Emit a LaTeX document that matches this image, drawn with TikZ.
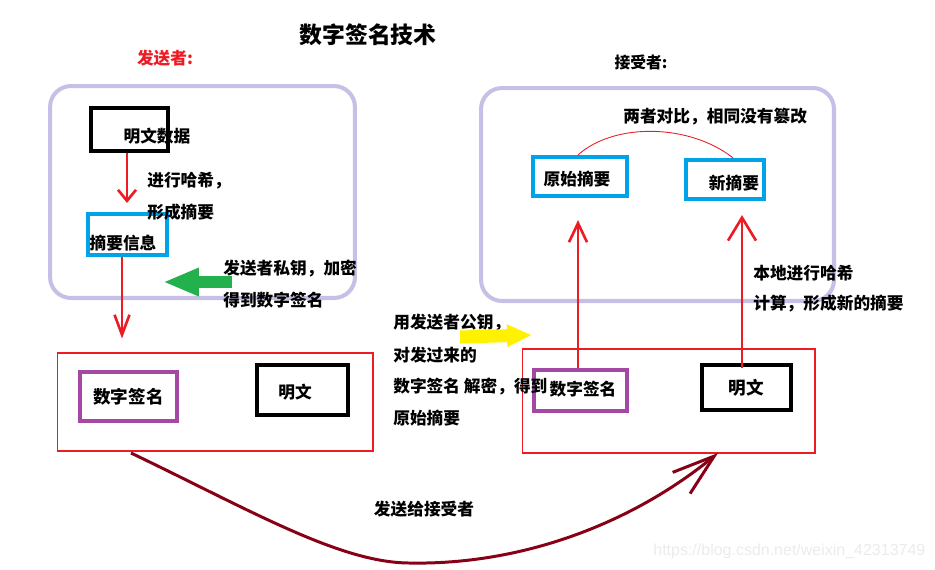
\documentclass[tikz,border=0pt]{standalone}
\usepackage{fontspec}
\setmainfont{Noto Sans CJK SC}
\newfontfamily\wmfont{Liberation Sans}
\usetikzlibrary{arrows.meta}

\definecolor{sred}{HTML}{ED1C24}
\definecolor{lav}{HTML}{C8BFE7}
\definecolor{sblue}{HTML}{00A2E8}
\definecolor{spurple}{HTML}{A349A4}
\definecolor{sgreen}{HTML}{22B14C}
\definecolor{syellow}{HTML}{FFF200}
\definecolor{dred}{HTML}{880015}

\begin{document}
\begin{tikzpicture}[x=0.02cm, y=-0.02cm,
    txt/.style={font=\bfseries\fontsize{9.5}{11}\selectfont, inner sep=0pt},
    lavbox/.style={draw=lav, line width=2.3pt, rounded corners=0.42cm, inner sep=0pt},
    frame/.style={draw=sred, line width=0.6pt, inner sep=0pt},
    blackbox/.style={draw=black, line width=2.4pt, inner sep=0pt},
    bluebox/.style={draw=sblue, line width=2.4pt, inner sep=0pt},
    purplebox/.style={draw=spurple, line width=2.4pt, inner sep=0pt},
    redarrow/.style={draw=sred, line width=1.5pt},
    fatarrow/.style={line width=0.24cm}]
    \useasboundingbox (0,0) rectangle (935,569);

    % Title and roles
    \node[txt, font=\bfseries\fontsize{13}{15}\selectfont] (title) at (368,35) {数字签名技术};
    \node[txt, text=sred, font=\bfseries\fontsize{9.5}{11}\selectfont] (sender) at (165,58) {发送者:};
    \node[txt, font=\bfseries\fontsize{9}{11}\selectfont] (receiver) at (641,62) {接受者:};

    % Sender side
    \node[lavbox, minimum width=6.1cm, minimum height=4.24cm] (sendgroup) at (202.5,192) {};
    \node[blackbox, minimum width=1.54cm, minimum height=0.86cm,
        label={[txt, xshift=0.55cm, yshift=-0.13cm]center:明文数据}] (plainsrc) at (129.5,129.5) {};
    \node[bluebox, minimum width=1.58cm, minimum height=0.82cm,
        label={[txt, xshift=-0.09cm, yshift=-0.17cm]center:摘要信息}] (digest) at (127.5,234.5) {};
    \node[txt, anchor=west] (hashnote) at (147,181) {进行哈希，};
    \node[txt, anchor=west] (hashnote2) at (147,212) {形成摘要};
    \node[txt, anchor=west] (signnote) at (223,269) {发送者私钥，加密};
    \node[txt, anchor=west] (signnote2) at (223,300) {得到数字签名};

    % Package sent
    \node[frame, minimum width=6.32cm, minimum height=1.96cm] (sendpack) at (215,402) {};
    \node[purplebox, minimum width=1.94cm, minimum height=0.98cm] (sigsrc) at (128.5,396.5) {\bfseries 数字签名};
    \node[blackbox, minimum width=1.82cm, minimum height=1cm,
        label={[txt, xshift=-0.15cm, yshift=-0.04cm]center:明文}] (plainsent) at (302.5,390) {};

    % Receiver side
    \node[lavbox, minimum width=7.06cm, minimum height=4.26cm] (recvgroup) at (657.5,194.5) {};
    \node[bluebox, minimum width=1.88cm, minimum height=0.78cm,
        label={[txt, xshift=-0.06cm, yshift=-0.05cm]center:原始摘要}] (origdigest) at (580,176.5) {};
    \node[bluebox, minimum width=1.56cm, minimum height=0.78cm,
        label={[txt, xshift=0.18cm, yshift=-0.07cm]center:新摘要}] (newdigest) at (725,179.5) {};
    \node[txt, anchor=west] (comparenote) at (623,117) {两者对比，相同没有篡改};
    \node[txt, anchor=west] (localnote) at (753,273) {本地进行哈希};
    \node[txt, anchor=west] (localnote2) at (753,304) {计算，形成新的摘要};

    % Package received
    \node[frame, minimum width=5.86cm, minimum height=2.08cm] (recvpack) at (668.5,401) {};
    \node[purplebox, minimum width=1.86cm, minimum height=0.82cm,
        label={[txt, xshift=0.05cm, yshift=0.03cm]center:数字签名}] (sigrecv) at (580.5,390.5) {};
    \node[blackbox, minimum width=1.78cm, minimum height=0.9cm] (plainrecv) at (746.5,387.5) {\bfseries 明文};

    % Decryption note
    \node[txt, anchor=west] (decnote) at (393,323) {用发送者公钥，};
    \node[txt, anchor=west] (decnote2) at (393,355) {对发过来的};
    \node[txt, anchor=west] (decnote3) at (393,387) {数字签名 解密，得到};
    \node[txt, anchor=west] (decnote4) at (393,418) {原始摘要};
    \node[txt] (sendnote) at (424,509) {发送给接受者};

    % Red arrows
    \draw[redarrow, -{Straight Barb[length=0.22cm, width=0.36cm]}, shorten >=0.18cm]
        ([xshift=-0.05cm]plainsrc.south) -- ([xshift=-0.05cm]plainsrc.south |- digest.north);
    \draw[redarrow, -{Straight Barb[length=0.4cm, width=0.3cm]}, shorten >=0.28cm]
        ([xshift=-0.11cm]digest.south) -- ([xshift=-0.11cm]digest.south |- sendpack.north);
    \draw[redarrow, -{Straight Barb[length=0.38cm, width=0.36cm]}, shorten >=0.44cm]
        ([xshift=-0.05cm]sigrecv.north) -- ([xshift=-0.05cm]sigrecv.north |- origdigest.south);
    \draw[redarrow, -{Straight Barb[length=0.46cm, width=0.56cm]}, shorten >=0.28cm]
        ([xshift=-0.09cm, yshift=-0.1cm]plainrecv.north) -- ([xshift=-0.09cm]plainrecv.north |- newdigest.south);

    % Compare curve
    \draw[sred, line width=0.5pt] ([xshift=-0.04cm]origdigest.north) .. controls (615,122) and (690,124) .. ([xshift=0.16cm]newdigest.north);

    % Key arrows
    \coordinate (greentail) at (232,282);
    \coordinate (greenhead) at (163,282);
    \draw[fatarrow, sgreen, -{Triangle[length=0.72cm, width=0.52cm]}] (greentail) -- (greenhead);
    \coordinate (yellowtail) at (460,337);
    \coordinate (yellowhead) at (532,335);
    \draw[fatarrow, syellow, line width=0.26cm, -{Triangle[length=0.5cm, width=0.42cm]}] (yellowtail) -- (yellowhead);

    % Sending curve
    \coordinate (sendstart) at (131,453);
    \coordinate (sendend) at (718,453);
    \draw[dred, line width=1.7pt, -{Straight Barb[length=0.85cm, width=0.55cm]}]
        (sendstart) .. controls (250,510) and (340,563) .. (410,563)
        .. controls (520,565) and (630,525) .. (sendend);

    % Watermark
    \node[text=black!8, font=\wmfont\fontsize{9.1}{11}\selectfont, inner sep=0pt, anchor=west] (mark) at (653,551) {https://blog.csdn.net/weixin\_42313749};
\end{tikzpicture}
\end{document}
